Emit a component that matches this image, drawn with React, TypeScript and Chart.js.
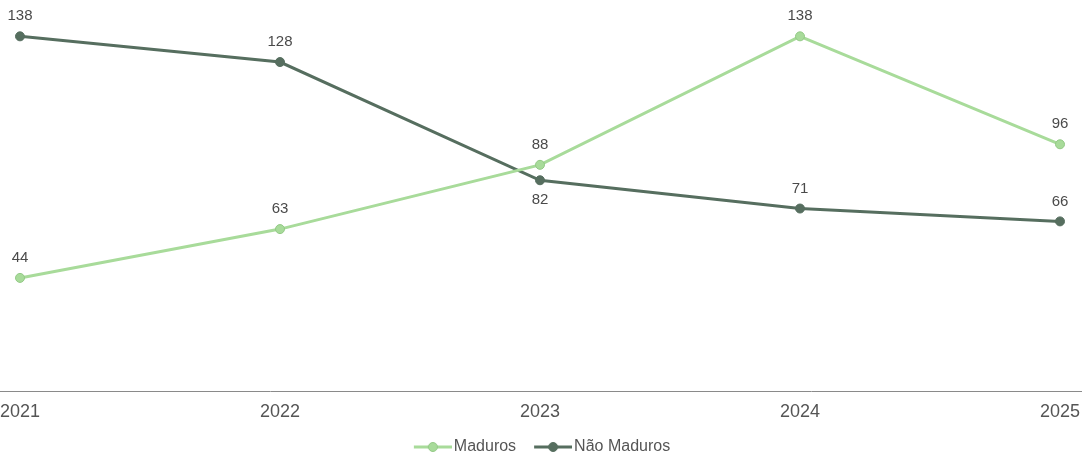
import React, { useEffect, useRef } from "react";
import { Chart, registerables } from "chart.js";

Chart.register(...registerables);

const categories = ["2021", "2022", "2023", "2024", "2025"];
const maduros = [44, 63, 88, 138, 96];
const naoMaduros = [138, 128, 82, 71, 66];
const seriesNames = ["Maduros", "Não Maduros"];
const seriesColors = ["#a8db9a", "#566e5f"];
const edgeColors = ["#93c986", "#566e5f"];
// label placement per point: -1 above, 1 below
const naoMadurosLabelSide = [-1, -1, 1, -1, -1];
const madurosLabelSide = [-1, -1, -1, -1, -1];

const FONT = "'Liberation Sans', Arial, sans-serif";

// legend icon: transparent left margin of 10px, then 38px line with a dot
function legendIcon(color: string, edge: string) {
  const c = document.createElement("canvas");
  c.width = 48;
  c.height = 12;
  const ctx = c.getContext("2d")!;
  ctx.strokeStyle = color;
  ctx.lineWidth = 3;
  ctx.beginPath();
  ctx.moveTo(10, 6);
  ctx.lineTo(48, 6);
  ctx.stroke();
  ctx.fillStyle = color;
  ctx.strokeStyle = edge;
  ctx.lineWidth = 1;
  ctx.beginPath();
  ctx.arc(29, 6, 4.5, 0, Math.PI * 2);
  ctx.fill();
  ctx.stroke();
  return c;
}

const labelsPlugin = {
  id: "valueLabels",
  afterDatasetsDraw(chart: any) {
    const ctx = chart.ctx;
    ctx.save();
    ctx.font = "15px " + FONT;
    ctx.fillStyle = "#4a4a4a";
    ctx.textAlign = "center";
    ctx.textBaseline = "middle";
    const sides = [madurosLabelSide, naoMadurosLabelSide];
    chart.data.datasets.forEach((ds: any, di: number) => {
      const meta = chart.getDatasetMeta(di);
      meta.data.forEach((pt: any, i: number) => {
        const side = sides[di][i];
        ctx.fillText(String(ds.data[i]), pt.x, pt.y + side * 20);
      });
    });
    ctx.restore();
  },
};

const axisLinePlugin = {
  id: "axisLine",
  afterDraw(chart: any) {
    const ctx = chart.ctx;
    const y = chart.chartArea.bottom;
    ctx.save();
    ctx.strokeStyle = "#8a8a8a";
    ctx.lineWidth = 1;
    ctx.beginPath();
    ctx.moveTo(0, Math.round(y) + 0.5);
    ctx.lineTo(chart.width, Math.round(y) + 0.5);
    ctx.stroke();
    ctx.restore();
  },
};

export default function App() {
  const ref = useRef<HTMLCanvasElement>(null);
  useEffect(() => {
    if (!ref.current) return;
    const icons = [
      legendIcon(seriesColors[0], edgeColors[0]),
      legendIcon(seriesColors[1], edgeColors[1]),
    ];
    const chart = new Chart(ref.current, {
      type: "line",
      data: {
        labels: categories,
        datasets: [
          {
            label: seriesNames[0],
            data: maduros,
            borderColor: seriesColors[0],
            backgroundColor: seriesColors[0],
            pointBorderColor: edgeColors[0],
            pointBackgroundColor: seriesColors[0],
            borderWidth: 3,
            pointRadius: 4.5,
            pointBorderWidth: 1,
          } as any,
          {
            label: seriesNames[1],
            data: naoMaduros,
            borderColor: seriesColors[1],
            backgroundColor: seriesColors[1],
            pointBorderColor: edgeColors[1],
            pointBackgroundColor: seriesColors[1],
            borderWidth: 3,
            pointRadius: 4.5,
            pointBorderWidth: 1,
          } as any,
        ],
      },
      options: {
        animation: false,
        responsive: false,
        maintainAspectRatio: false,
        layout: { padding: { left: 20, right: 22, top: 5, bottom: 0 } },
        elements: { point: { pointStyle: "circle" } },
        scales: {
          x: {
            grid: { display: false, drawTicks: false },
            border: { display: false },
            ticks: {
              color: "#555",
              font: { size: 18, family: FONT },
              padding: 10,
              maxRotation: 0,
            },
            afterFit: (scale: any) => {
              scale.paddingLeft = 0;
              scale.paddingRight = 0;
              scale.height = 34;
            },
          },
          y: {
            display: false,
            min: 0,
            max: 150,
          },
        },
        plugins: {
          legend: {
            position: "bottom",
            maxHeight: 32,
            labels: {
              usePointStyle: true,
              pointStyleWidth: 36,
              color: "#555",
              padding: 14,
              font: { size: 16, family: FONT },
              generateLabels: (c: any) =>
                c.data.datasets.map((ds: any, i: number) => ({
                  text: ds.label,
                  pointStyle: icons[i],
                  fillStyle: seriesColors[i],
                  strokeStyle: seriesColors[i],
                  lineWidth: 0,
                  hidden: false,
                  datasetIndex: i,
                  fontColor: "#555",
                })),
            },
          },
          tooltip: { enabled: false },
        },
      },
      plugins: [labelsPlugin, axisLinePlugin],
    });
    return () => chart.destroy();
  }, []);
  return (
    <div style={{ position: "absolute", left: 0, top: 0, width: 1082, height: 457 }}>
      <canvas ref={ref} width={1082} height={457} style={{ width: 1082, height: 457 }} />
    </div>
  );
}
